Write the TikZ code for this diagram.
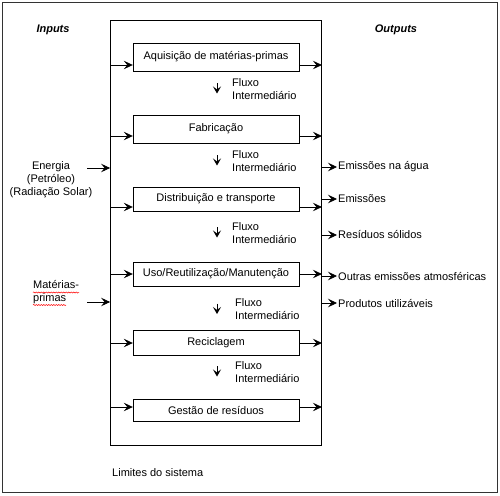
\documentclass[tikz,border=0pt]{standalone}
\usepackage{fontspec}
\setmainfont{Liberation Sans}
\usetikzlibrary{arrows.meta,decorations.pathmorphing}
\tikzset{
  stage/.style={draw, minimum width=166pt, inner sep=0pt, font=\fontsize{11}{12}\selectfont},
  lbl/.style={inner sep=1pt, font=\fontsize{11}{13}\selectfont},
  arr/.style={-{Stealth[length=9pt,width=8.5pt,inset=3.5pt]}, line width=0.8pt},
  flow/.style={-{Stealth[length=7pt,width=8pt,inset=3pt]}, line width=0.8pt},
  squiggle/.style={red, line width=0.5pt, decorate, decoration={snake, amplitude=0.6pt, segment length=2.5pt}}
}
\begin{document}
\begin{tikzpicture}[x=1pt, y=-1pt]
    \useasboundingbox (0,0) rectangle (500,495);
    % Outer frame
    \draw[line width=0.8pt, black!80] (2,2) rectangle (497,492);

    % System boundary
    \node[draw, line width=0.8pt, minimum width=211pt, minimum height=425pt, inner sep=0pt] (sys) at (216,232.5) {};

    % Stages
    \node[stage, minimum height=28pt] (b1) at (216,57) {Aquisição de matérias-primas};
    \node[stage, minimum height=28pt] (b2) at (216,129) {Fabricação};
    \node[stage, minimum height=24pt] (b3) at (216,199) {Distribuição e transporte};
    \node[stage, minimum height=24pt] (b4) at (216,274) {Uso/Reutilização/Manutenção};
    \node[stage, minimum height=25pt] (b5) at (216,342.5) {Reciclagem};
    \node[stage, minimum height=22pt] (b6) at (216,410) {Gestão de resíduos};

    % Stage arrows
    \foreach \b/\y in {b1/65, b2/136, b3/207, b4/274, b5/343, b6/407} {
        \draw[arr] (sys.west |- 0,\y) -- (\b.west |- 0,\y);
        \draw[arr] (\b.east |- 0,\y) -- (sys.east |- 0,\y);
    }

    % Intermediate flows
    \foreach \n/\y/\x in {f1/89/231, f2/161/231, f3/233/231, f4/309.5/234, f5/372/234} {
        \node[lbl, anchor=west, align=left] (\n) at (\x,\y) {Fluxo\\Intermediário};
        \coordinate (\n a) at (217,\y-1);
        \draw[flow] ([yshift=5pt]\n a) -- ([yshift=-5.5pt]\n a);
    }

    % Headings
    \node[lbl, font=\fontsize{11}{13}\selectfont\bfseries\itshape] (inp) at (53,30) {Inputs};
    \node[lbl, font=\fontsize{11}{13}\selectfont\bfseries\itshape] (outp) at (396,30) {Outputs};
    \node[lbl, anchor=west] (lim) at (111,473) {Limites do sistema};

    % Inputs
    \node[lbl, align=center] (energia) at (51,180) {Energia\\(Petróleo)\\(Radiação Solar)};
    \coordinate (e0) at (87,168);
    \draw[arr] (e0) -- (sys.west |- e0);
    \node[lbl, anchor=west, align=left, font=\fontsize{11}{12.5}\selectfont] (mat) at (32,292) {Matérias-\\primas};
    \draw[squiggle] (33,292.5) -- (79,292.5);
    \draw[squiggle] (33,305) -- (66,305);
    \coordinate (m0) at (87,302);
    \draw[arr] (m0) -- (sys.west |- m0);

    % Outputs
    \foreach \n/\y/\t in {o1/167/Emissões na água, o2/199/Emissões, o3/235/Resíduos sólidos, o4/276/Outras emissões atmosféricas, o5/303/Produtos utilizáveis} {
        \node[lbl, anchor=west] (\n) at (337,\y) {\t};
        \draw[arr] (sys.east |- \n.west) -- (\n.west);
    }
\end{tikzpicture}
\end{document}
